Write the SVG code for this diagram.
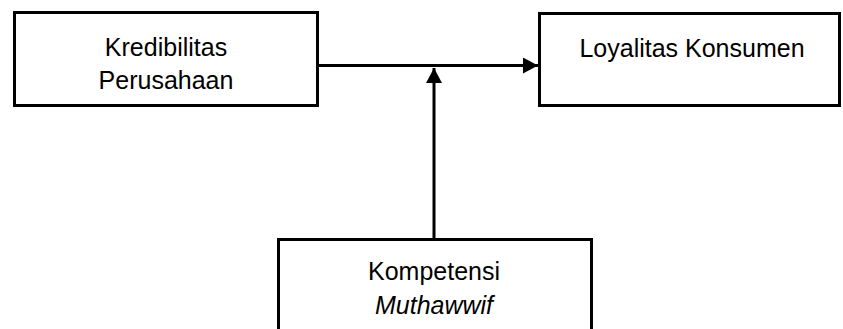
<svg xmlns="http://www.w3.org/2000/svg" width="843" height="329" viewBox="0 0 843 329">
  <style>
    .box { fill: #ffffff; stroke: #000000; stroke-width: 3; }
    .label { font-family: "Liberation Sans", Arial, sans-serif; font-size: 25px; fill: #000000; text-anchor: middle; }
    .em { font-style: italic; }
    .edge { stroke: #000000; stroke-width: 3; fill: none; }
  </style>
  <defs>
    <marker id="arrowhead" viewBox="0 0 15 16" refX="15" refY="8" markerWidth="15" markerHeight="16" orient="auto" markerUnits="userSpaceOnUse">
      <path d="M0,0 L15,8 L0,16 Z" fill="#000000"/>
    </marker>
  </defs>
  <rect width="843" height="329" fill="#ffffff"/>

  <g id="connectors">
    <line class="edge" x1="318" y1="65.5" x2="538" y2="65.5" marker-end="url(#arrowhead)"/>
    <line class="edge" x1="434" y1="239" x2="434" y2="68" marker-end="url(#arrowhead)"/>
  </g>

  <g id="kredibilitas">
    <rect class="box" x="14.5" y="12.5" width="303" height="93"/>
    <text class="label" x="166" y="56">Kredibilitas</text>
    <text class="label" x="166" y="89">Perusahaan</text>
  </g>

  <g id="loyalitas">
    <rect class="box" x="539.5" y="13.5" width="300" height="92"/>
    <text class="label" x="692" y="57">Loyalitas Konsumen</text>
  </g>

  <g id="kompetensi">
    <rect class="box" x="278.5" y="239.5" width="313" height="100"/>
    <text class="label" x="434" y="280">Kompetensi</text>
    <text class="label em" x="434" y="314">Muthawwif</text>
  </g>
</svg>
